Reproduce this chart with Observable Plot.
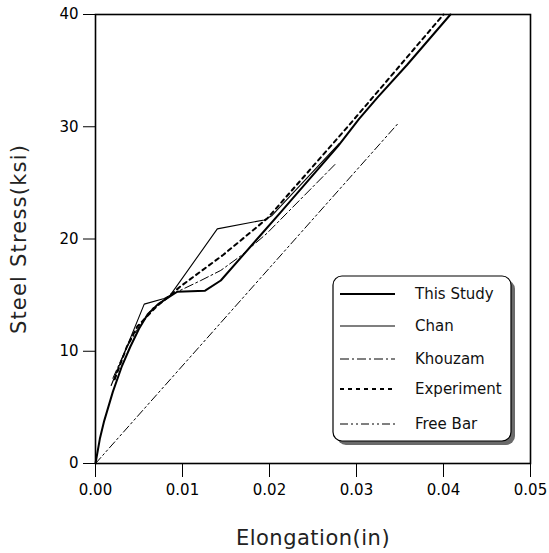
<!DOCTYPE html>
<html>
<head>
<meta charset="utf-8">
<script src="https://cdn.jsdelivr.net/npm/d3@7"></script>
<script src="https://cdn.jsdelivr.net/npm/@observablehq/plot@0.6"></script>
<style>
  html, body { margin: 0; padding: 0; background: #fff; }
  #chart svg { display: block; }
</style>
</head>
<body>
<div id="chart"></div>
<script>
// ---- data ----
const seriesNames = ["This Study", "Chan", "Khouzam", "Experiment", "Free Bar"];

const xThisStudy = [0, 0.0005, 0.001, 0.002, 0.003, 0.004, 0.005, 0.006, 0.0072, 0.0086, 0.0094, 0.0126, 0.0144, 0.0213, 0.0279, 0.0303, 0.0324, 0.0358, 0.0408];
const yThisStudy = [0, 2.2, 3.8, 6.4, 8.6, 10.4, 12.0, 13.3, 14.2, 14.9, 15.3, 15.4, 16.3, 22.4, 28.3, 30.7, 32.6, 35.5, 40];

const xChan = [0.0018, 0.0056, 0.0079, 0.0086, 0.0140, 0.0194, 0.0203, 0.0280];
const yChan = [6.95, 14.2, 14.7, 15.0, 20.9, 21.7, 22.1, 28.5];

const xKhouzam = [0.0020, 0.0035, 0.0050, 0.0065, 0.0086, 0.0121, 0.0144, 0.0167, 0.0197, 0.0276];
const yKhouzam = [7.6, 10.2, 12.2, 13.8, 15.0, 16.3, 17.2, 18.5, 20.5, 26.7];

const xExperiment = [0.0022, 0.0036, 0.0048, 0.0069, 0.0086, 0.0098, 0.0147, 0.0197, 0.0205, 0.0291, 0.0400];
const yExperiment = [7.5, 10.4, 12.2, 13.9, 15.0, 15.8, 18.6, 21.8, 22.5, 30.1, 40];

const xFreeBar = [0, 0.0349];
const yFreeBar = [0, 30.4];

const xTicks = [0, 0.01, 0.02, 0.03, 0.04, 0.05];
const yTicks = [0, 10, 20, 30, 40];
const xTitle = "Elongation(in)";
const yTitle = "Steel Stress(ksi)";

// ---- styles ----
const styles = {
  "This Study": {strokeWidth: 2, dash: null},
  "Chan": {strokeWidth: 1.1, dash: null},
  "Khouzam": {strokeWidth: 1, dash: "9,3,2,3"},
  "Experiment": {strokeWidth: 2, dash: "4,4"},
  "Free Bar": {strokeWidth: 1, dash: "8,3,2,3,2,3"}
};

const xs = [xThisStudy, xChan, xKhouzam, xExperiment, xFreeBar];
const ys = [yThisStudy, yChan, yKhouzam, yExperiment, yFreeBar];
const rows = seriesNames.map((name, i) => xs[i].map((x, j) => ({series: name, x, y: ys[i][j]})));

const font = "'DejaVu Sans', sans-serif";

const chart = Plot.plot({
  width: 549,
  height: 553,
  marginLeft: 95,
  marginRight: 19,
  marginTop: 14,
  marginBottom: 90,
  style: {fontFamily: font, fontSize: "15px", color: "#000", background: "#fff"},
  x: {domain: [0, 0.05]},
  y: {domain: [0, 40]},
  marks: [
    Plot.axisX({ticks: xTicks, tickFormat: d3.format(".2f"), tickSize: 14, tickPadding: 7, label: null, fontSize: 15, strokeWidth: 1}),
    Plot.axisY({ticks: yTicks, tickSize: 12, tickPadding: 5, label: null, fontSize: 15, strokeWidth: 1}),
    ...rows.map(r => Plot.line(r, {
      x: "x", y: "y",
      stroke: "#000",
      strokeWidth: styles[r[0].series].strokeWidth,
      strokeDasharray: styles[r[0].series].dash,
      strokeLinejoin: "round"
    })),
    Plot.frame({stroke: "#000", strokeWidth: 1.6}),
    Plot.text([xTitle], {frameAnchor: "bottom", dy: 81, fontSize: 21, fill: "#222", textAnchor: "middle"}),
    Plot.text([yTitle], {frameAnchor: "left", rotate: -90, dx: -76, fontSize: 21, fill: "#222", textAnchor: "middle"})
  ]
});

document.getElementById("chart").appendChild(chart);

const svg = d3.select(chart);
// title letter spacing, as in the reference
svg.selectAll("text").filter(function () { return this.textContent === xTitle; }).attr("letter-spacing", 0.5);
svg.selectAll("text").filter(function () { return this.textContent === yTitle; }).attr("letter-spacing", 1.2);

// ---- legend box drawn inside the plot svg ----
const box = {x: 333, y: 276, w: 178, h: 165};
const g = svg.append("g").attr("font-family", font).attr("font-size", 15).attr("text-anchor", "start");
g.append("rect")
  .attr("x", box.x + 4).attr("y", box.y + 4).attr("width", box.w).attr("height", box.h)
  .attr("rx", 9).attr("fill", "#6a6a6a");
g.append("rect")
  .attr("x", box.x).attr("y", box.y).attr("width", box.w).attr("height", box.h)
  .attr("rx", 9).attr("fill", "#fff").attr("stroke", "#000").attr("stroke-width", 1.2);
const rowY = [294, 326, 359, 389, 424];
seriesNames.forEach((name, i) => {
  const st = styles[name];
  g.append("line")
    .attr("x1", 340).attr("x2", 395).attr("y1", rowY[i]).attr("y2", rowY[i])
    .attr("stroke", "#000").attr("stroke-width", st.strokeWidth)
    .attr("stroke-dasharray", st.dash);
  g.append("text")
    .attr("x", 415).attr("y", rowY[i]).attr("dy", "0.35em")
    .attr("text-anchor", "start")
    .attr("fill", "#111")
    .text(name);
});
</script>
</body>
</html>
